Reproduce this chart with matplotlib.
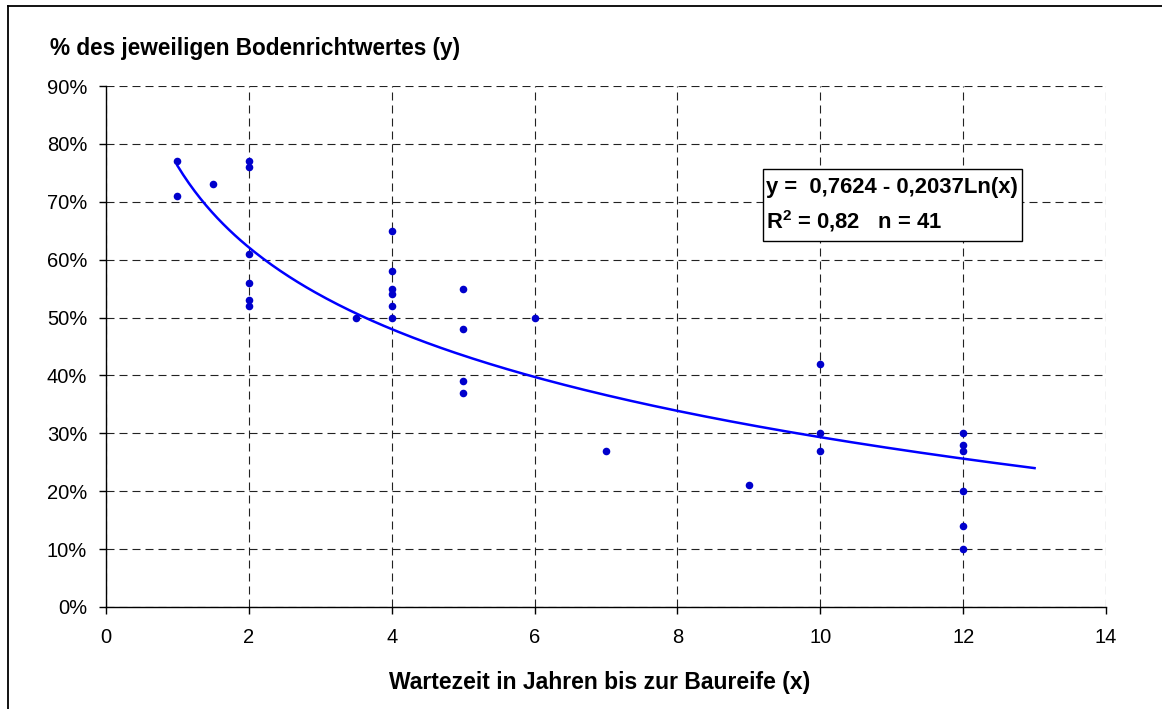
import numpy as np
import matplotlib
matplotlib.use("Agg")
import matplotlib.pyplot as plt
from matplotlib.lines import Line2D
from matplotlib.patches import Rectangle
from matplotlib.ticker import FuncFormatter, MultipleLocator

# Data (waiting time in years, share of land value)
x_vals = [1, 1, 1.5,
          2, 2, 2, 2, 2, 2,
          3.5,
          4, 4, 4, 4, 4, 4,
          5, 5, 5, 5,
          6, 7, 9,
          10, 10, 10,
          12, 12, 12, 12, 12, 12]
y_vals = [0.77, 0.71, 0.73,
          0.77, 0.76, 0.61, 0.56, 0.53, 0.52,
          0.50,
          0.65, 0.58, 0.55, 0.54, 0.52, 0.50,
          0.55, 0.48, 0.39, 0.37,
          0.50, 0.27, 0.21,
          0.42, 0.30, 0.27,
          0.30, 0.28, 0.27, 0.20, 0.14, 0.10]
fit_a = 0.7624
fit_b = 0.2037
fit_range = (1, 13)
eq_text = "y =  0,7624 - 0,2037Ln(x)"
r2_text = "R$^\\mathbf{2}$ = 0,82   n = 41"
x_label = "Wartezeit in Jahren bis zur Baureife (x)"
y_label = "% des jeweiligen Bodenrichtwertes (y)"

plt.rcParams['font.family'] = ['Liberation Sans', 'DejaVu Sans']
plt.rcParams['mathtext.fontset'] = 'custom'
plt.rcParams['mathtext.rm'] = 'Liberation Sans'
plt.rcParams['mathtext.bf'] = 'Liberation Sans:bold'

W, H = 1162, 709
fig = plt.figure(figsize=(W/100, H/100), dpi=100)
ax = fig.add_axes([106/W, 1-607/H, 1000/W, 521/H])

# outer frame (left and top edges visible, rest cropped)
fig.add_artist(Line2D([8/W, 8/W], [0, 1-5.5/H], transform=fig.transFigure,
                      color='black', linewidth=1.3))
fig.add_artist(Line2D([8/W, 1], [1-5.5/H, 1-5.5/H], transform=fig.transFigure,
                      color='black', linewidth=1.3))

ax.set_xlim(0, 14)
ax.set_ylim(0, 0.9)
ax.xaxis.set_major_locator(MultipleLocator(2))
ax.yaxis.set_major_locator(MultipleLocator(0.1))
ax.yaxis.set_major_formatter(FuncFormatter(lambda v, p: f"{round(v*100):d}%"))
ax.grid(True, color='#222222', linestyle=(0, (7.2, 4.5)), linewidth=0.8)
ax.set_axisbelow(True)
for s in ['top', 'right']:
    ax.spines[s].set_visible(False)
for s in ['left', 'bottom']:
    ax.spines[s].set_linewidth(1.0)
ax.tick_params(axis='both', direction='out', length=5, labelsize=14.5, width=1.0)
ax.tick_params(axis='x', pad=10)
ax.tick_params(axis='y', pad=8.5)

xf = np.linspace(fit_range[0], fit_range[1], 300)
ax.plot(xf, fit_a - fit_b*np.log(xf), color='#0000FF', linewidth=1.8, zorder=3)
ax.scatter(x_vals, y_vals, s=30, color='#0000CC', zorder=4, linewidths=0)

fig.text(50/W, 1-48/H, y_label, fontsize=16.3, fontweight='bold', va='center', ha='left')
fig.text(600/W, 1-682/H, x_label, fontsize=16.5, fontweight='bold', va='center', ha='center')

# equation box
fig.patches.append(Rectangle((763/W, 1-241/H), 259/W, 72/H,
                             transform=fig.transFigure, facecolor='white',
                             edgecolor='black', linewidth=1.0, zorder=5))
fig.text(766/W, 1-188/H, eq_text, fontsize=15.8, fontweight='bold', va='center', ha='left', zorder=6)
fig.text(766/W, 1-221/H, r2_text, fontsize=15.8, fontweight='bold', va='center', ha='left', zorder=6)

fig.savefig("out.png", dpi=100)
